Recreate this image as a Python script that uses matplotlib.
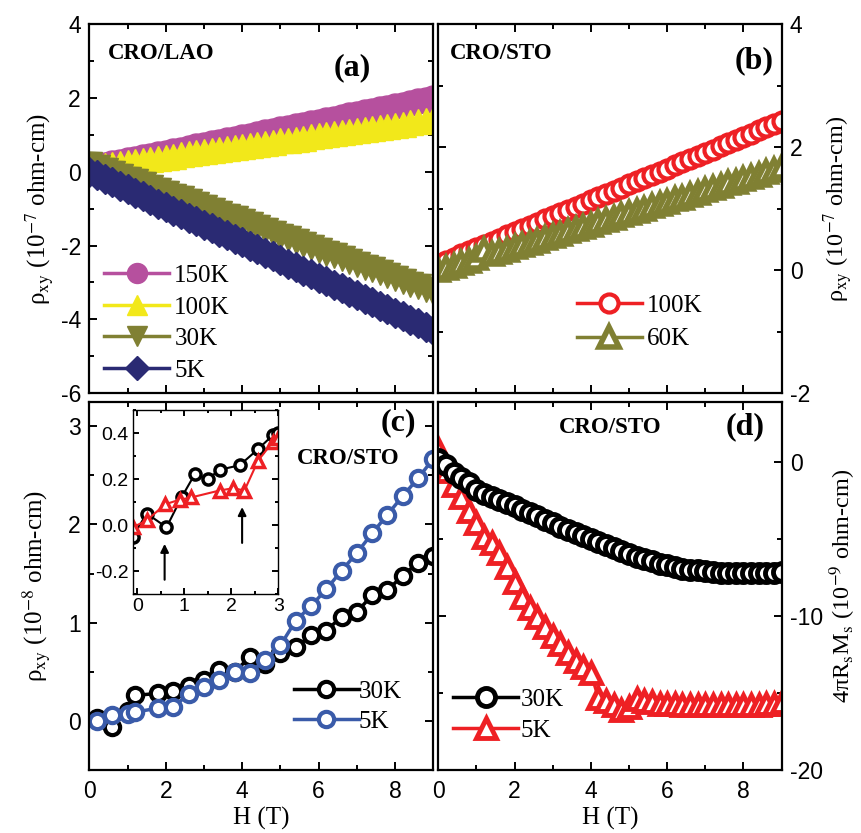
import numpy as np
import matplotlib.pyplot as plt
from matplotlib.ticker import MultipleLocator

plt.rcParams['font.family'] = ['Liberation Serif', 'DejaVu Serif']
plt.rcParams['mathtext.fontset'] = 'stix'
plt.rcParams['axes.unicode_minus'] = False
plt.rcParams['axes.linewidth'] = 1.6

# ---- data ----
# field sweep used for the dense curves of (a), (b), (d)
H = [0.0, 0.2, 0.4, 0.6, 0.8, 1.0, 1.2, 1.4, 1.6, 1.8, 2.0, 2.2, 2.4, 2.6, 2.8, 3.0,
     3.2, 3.4, 3.6, 3.8, 4.0, 4.2, 4.4, 4.6, 4.8, 5.0, 5.2, 5.4, 5.6, 5.8, 6.0, 6.2,
     6.4, 6.6, 6.8, 7.0, 7.2, 7.4, 7.6, 7.8, 8.0, 8.2, 8.4, 8.6, 8.8, 9.0]

# (a) CRO/LAO, rho_xy in 1e-7 ohm-cm
lao_150K = [0.10, 0.14, 0.18, 0.23, 0.27, 0.31, 0.35, 0.39, 0.44, 0.48, 0.52, 0.56, 0.60, 0.65, 0.69, 0.73,
            0.77, 0.81, 0.86, 0.90, 0.94, 0.98, 1.02, 1.07, 1.11, 1.15, 1.19, 1.23, 1.28, 1.32, 1.36, 1.40,
            1.44, 1.49, 1.53, 1.57, 1.61, 1.65, 1.70, 1.74, 1.78, 1.82, 1.86, 1.91, 1.95, 1.99]
lao_100K = [0.12, 0.15, 0.18, 0.21, 0.24, 0.27, 0.29, 0.32, 0.35, 0.38, 0.41, 0.44, 0.47, 0.50, 0.53, 0.56,
            0.58, 0.61, 0.64, 0.67, 0.70, 0.73, 0.76, 0.79, 0.82, 0.85, 0.87, 0.90, 0.93, 0.96, 0.99, 1.02,
            1.05, 1.08, 1.11, 1.14, 1.16, 1.19, 1.22, 1.25, 1.28, 1.31, 1.34, 1.37, 1.40, 1.43]
lao_30K = [0.20, 0.12, 0.05, -0.03, -0.11, -0.19, -0.26, -0.34, -0.42, -0.49, -0.57, -0.65, -0.72, -0.80, -0.88, -0.96,
           -1.03, -1.11, -1.19, -1.26, -1.34, -1.42, -1.49, -1.57, -1.65, -1.73, -1.80, -1.88, -1.96, -2.03, -2.11, -2.19,
           -2.26, -2.34, -2.42, -2.50, -2.57, -2.65, -2.73, -2.80, -2.88, -2.96, -3.03, -3.11, -3.19, -3.27]
lao_5K = [0.00, -0.10, -0.19, -0.29, -0.38, -0.48, -0.57, -0.67, -0.76, -0.86, -0.96, -1.05, -1.15, -1.24, -1.34, -1.43,
          -1.53, -1.63, -1.72, -1.82, -1.91, -2.01, -2.10, -2.20, -2.29, -2.39, -2.49, -2.58, -2.68, -2.77, -2.87, -2.96,
          -3.06, -3.15, -3.25, -3.35, -3.44, -3.54, -3.63, -3.73, -3.82, -3.92, -4.02, -4.11, -4.21, -4.30]

# (b) CRO/STO, rho_xy in 1e-7 ohm-cm
sto_100K = [0.10, 0.15, 0.20, 0.26, 0.31, 0.36, 0.41, 0.46, 0.51, 0.57, 0.62, 0.67, 0.72, 0.77, 0.83, 0.88,
            0.93, 0.98, 1.03, 1.08, 1.14, 1.19, 1.24, 1.29, 1.34, 1.40, 1.45, 1.50, 1.55, 1.60, 1.65, 1.71,
            1.76, 1.81, 1.86, 1.91, 1.96, 2.02, 2.07, 2.12, 2.17, 2.22, 2.28, 2.33, 2.38, 2.43]
sto_60K = [0.00, 0.04, 0.07, 0.11, 0.15, 0.19, 0.33, 0.26, 0.30, 0.33, 0.37, 0.41, 0.44, 0.48, 0.52, 0.56,
           0.59, 0.63, 0.67, 0.70, 0.74, 0.78, 0.81, 0.85, 0.89, 0.93, 0.96, 1.00, 1.04, 1.07, 1.11, 1.15,
           1.18, 1.22, 1.26, 1.30, 1.33, 1.37, 1.41, 1.44, 1.48, 1.52, 1.55, 1.59, 1.63, 1.67]

# (c) CRO/STO, rho_xy in 1e-8 ohm-cm
Hc_30K = [0.2, 0.6, 1.0, 1.2, 1.8, 2.2, 2.6, 3.0, 3.4, 3.8, 4.2, 4.6, 5.0, 5.4, 5.8, 6.2, 6.6, 7.0, 7.4, 7.8, 8.2, 8.6, 9.0]
c_30K = [0.03, -0.06, 0.10, 0.26, 0.28, 0.30, 0.36, 0.42, 0.52, 0.50, 0.65, 0.58, 0.69, 0.75, 0.87, 0.92,
         1.06, 1.11, 1.28, 1.33, 1.48, 1.61, 1.68]
Hc_5K = [0.2, 0.6, 1.0, 1.2, 1.8, 2.2, 2.6, 3.0, 3.4, 3.8, 4.2, 4.6, 5.0, 5.4, 5.8, 6.2, 6.6, 7.0, 7.4, 7.8, 8.2, 8.6, 9.0]
c_5K = [0.00, 0.06, 0.07, 0.09, 0.13, 0.145, 0.27, 0.35, 0.42, 0.50, 0.49, 0.62, 0.77, 1.02, 1.17, 1.34,
        1.53, 1.71, 1.91, 2.10, 2.29, 2.47, 2.67]

# (c) inset, low field
Hin_30K = [-0.1, 0.2, 0.62, 0.94, 1.22, 1.5, 1.75, 2.18, 2.57, 2.88, 3.0]
in_30K = [-0.05, 0.05, -0.01, 0.12, 0.22, 0.20, 0.24, 0.26, 0.33, 0.39, 0.40]
Hin_5K = [-0.1, 0.2, 0.59, 0.9, 1.15, 1.75, 2.04, 2.28, 2.57, 2.88, 3.0]
in_5K = [-0.01, 0.02, 0.09, 0.11, 0.12, 0.15, 0.16, 0.15, 0.28, 0.36, 0.38]
arrow_H = [0.58, 2.23]
arrow_tail = [-0.25, -0.09]
arrow_head = [-0.07, 0.09]

# (d) CRO/STO, 4 pi Rs Ms in 1e-9 ohm-cm
d_30K = [0.2, -0.2, -0.7, -1.05, -1.4, -1.8, -2.1, -2.3, -2.5, -2.7, -2.9, -3.1, -3.3, -3.55, -3.75, -4.0,
         -4.2, -4.4, -4.6, -4.8, -5.0, -5.2, -5.4, -5.6, -5.8, -6.0, -6.15, -6.3, -6.45, -6.6, -6.7, -6.85,
         -6.95, -7.0, -7.05, -7.1, -7.15, -7.2, -7.2, -7.2, -7.2, -7.2, -7.2, -7.2, -7.2, -7.15]
d_5K = [0.8, -0.6, -1.5, -2.3, -3.2, -4.0, -4.9, -5.3, -5.9, -6.8, -7.8, -8.8, -9.5, -10.1, -10.7, -11.3,
        -11.8, -12.4, -12.9, -13.3, -13.7, -15.3, -15.5, -15.8, -16.1, -15.9, -15.4, -15.5, -15.6, -15.7, -15.7, -15.7,
        -15.8, -15.8, -15.8, -15.8, -15.8, -15.8, -15.8, -15.8, -15.8, -15.8, -15.8, -15.7, -15.7, -15.6]

# colours
magenta = '#B6509E'
yellow = '#F2E81A'
olive = '#808033'
navy = '#2A2A73'
red = '#EE2024'
blue = '#3A5BA9'

fig = plt.figure(figsize=(8.61, 8.33), dpi=100)
ax_a = fig.add_axes([0.1037, 0.5282, 0.3996, 0.4426])
ax_b = fig.add_axes([0.5090, 0.5282, 0.3988, 0.4426])
ax_c = fig.add_axes([0.1037, 0.0756, 0.3996, 0.4422])
ax_d = fig.add_axes([0.5090, 0.0756, 0.3988, 0.4422])
ax_in = fig.add_axes([0.1541, 0.2869, 0.1691, 0.2209])


def style(ax, xmaj, xmin, ymaj, ymin, right=False, xlabels=True, size=16.5):
    ax.xaxis.set_major_locator(MultipleLocator(xmaj))
    ax.xaxis.set_minor_locator(MultipleLocator(xmin))
    ax.yaxis.set_major_locator(MultipleLocator(ymaj))
    ax.yaxis.set_minor_locator(MultipleLocator(ymin))
    ax.tick_params(which='both', direction='in', top=True, right=True, width=1.4,
                   labelsize=size, labelfontfamily='Liberation Sans', pad=6)
    ax.tick_params(which='major', length=6)
    ax.tick_params(which='minor', length=3.5)
    if right:
        ax.tick_params(labelleft=False, labelright=True)
        ax.yaxis.set_label_position('right')
    if not xlabels:
        ax.tick_params(labelbottom=False)


leg_kw = dict(frameon=False, fontsize=18, handlelength=2.6, borderaxespad=0.2)

# (a)
ax_a.plot(H, lao_150K, '-o', color=magenta, ms=18, lw=2.5, label='150K')
ax_a.plot(H, lao_100K, '-^', color=yellow, ms=18, lw=2.5, label='100K')
ax_a.plot(H, lao_30K, '-v', color=olive, ms=18, lw=2.5, label='30K')
ax_a.plot(H, lao_5K, '-D', color=navy, ms=15, lw=2.5, label='5K')
ax_a.set_xlim(0, 9)
ax_a.set_ylim(-6, 4)
style(ax_a, 2, 1, 2, 1, xlabels=False)
ax_a.set_ylabel('ρ$_{\\mathrm{xy}}$ (10$^{-7}$ ohm-cm)', fontsize=18, labelpad=4)
ax_a.legend(loc='lower left', bbox_to_anchor=(0.0, -0.01), handletextpad=0.2,
            labelspacing=0.36, markerscale=0.8, **leg_kw)
ax_a.text(0.054, 0.921, 'CRO/LAO', transform=ax_a.transAxes, fontsize=16.5, fontweight='bold', va='center')
ax_a.text(0.764, 0.881, '(a)', transform=ax_a.transAxes, fontsize=23, fontweight='bold', ha='center', va='center')

# (b)
ax_b.plot(H, sto_100K, '-o', color=red, mfc='white', ms=13, mew=3, lw=2.5, label='100K')
ax_b.plot(H, sto_60K, '-^', color=olive, mfc='white', ms=14, mew=4, lw=2.5, label='60K')
ax_b.set_xlim(0, 9)
ax_b.set_ylim(-2, 4)
style(ax_b, 2, 1, 2, 1, right=True, xlabels=False)
ax_b.set_ylabel('ρ$_{\\mathrm{xy}}$ (10$^{-7}$ ohm-cm)', fontsize=17.5, labelpad=8)
ax_b.legend(loc='lower left', bbox_to_anchor=(0.36, 0.075), handletextpad=0.2,
            labelspacing=0.45, **leg_kw)
ax_b.text(0.034, 0.921, 'CRO/STO', transform=ax_b.transAxes, fontsize=16.5, fontweight='bold', va='center')
ax_b.text(0.919, 0.902, '(b)', transform=ax_b.transAxes, fontsize=23, fontweight='bold', ha='center', va='center')

# (c)
ax_c.plot(Hc_30K, c_30K, '-o', color='black', mfc='white', ms=11, mew=3, lw=2.5, label='30K')
ax_c.plot(Hc_5K, c_5K, '-o', color=blue, mfc='white', ms=11, mew=3, lw=2.5, label='5K')
ax_c.set_xlim(0, 9)
ax_c.set_ylim(-0.5, 3.25)
style(ax_c, 2, 1, 1, 0.5)
ax_c.tick_params(axis='x', pad=7)
ax_c.set_ylabel('ρ$_{\\mathrm{xy}}$ (10$^{-8}$ ohm-cm)', fontsize=18, labelpad=12)
ax_c.set_xlabel('H (T)', fontsize=18, labelpad=3)
ax_c.legend(loc='lower left', bbox_to_anchor=(0.55, 0.06), handletextpad=0.0,
            labelspacing=0.3, **leg_kw)
ax_c.text(0.897, 0.942, '(c)', transform=ax_c.transAxes, fontsize=23, fontweight='bold', ha='center', va='center')
ax_c.text(0.752, 0.847, 'CRO/STO', transform=ax_c.transAxes, fontsize=16.5, fontweight='bold', ha='center', va='center')

# (c) inset
ax_in.plot(Hin_30K, in_30K, '-o', color='black', mfc='white', ms=8, mew=2.5, lw=1.5)
ax_in.plot(Hin_5K, in_5K, '-^', color=red, mfc='white', ms=8, mew=2.5, lw=1.5)
for xa, y0, y1 in zip(arrow_H, arrow_tail, arrow_head):
    ax_in.annotate('', xy=(xa, y1), xytext=(xa, y0),
                   arrowprops=dict(arrowstyle='-|>', color='black', lw=1.5, mutation_scale=12))
ax_in.set_xlim(-0.1, 3)
ax_in.set_ylim(-0.3, 0.5)
style(ax_in, 1, 0.5, 0.2, 0.1, size=14)
ax_in.set_yticks([-0.2, 0.0, 0.2, 0.4])
ax_in.set_yticklabels(['-0.2', '0.0', '0.2', '0.4'])
ax_in.tick_params(which='major', length=4, pad=3)
ax_in.tick_params(which='minor', length=2)
for s in ax_in.spines.values():
    s.set_linewidth(1.0)

# (d)
l5, = ax_d.plot(H, d_5K, '-^', color=red, mfc='white', ms=14, mew=3.5, lw=2.5, label='5K')
l30, = ax_d.plot(H, d_30K, '-o', color='black', mfc='white', ms=13, mew=3.5, lw=2.5, label='30K')
ax_d.set_xlim(0, 9)
ax_d.set_ylim(-20, 3.9)
style(ax_d, 2, 1, 10, 5, right=True)
ax_d.tick_params(axis='x', pad=7)
ax_d.set_ylabel('4πR$_{\\mathrm{s}}$M$_{\\mathrm{s}}$ (10$^{-9}$ ohm-cm)', fontsize=17.5, labelpad=3)
ax_d.set_xlabel('H (T)', fontsize=18, labelpad=3)
ax_d.legend(handles=[l30, l5], loc='lower left', bbox_to_anchor=(0.0, 0.035), handletextpad=0.1,
            labelspacing=0.36, **leg_kw)
ax_d.text(0.50, 0.929, 'CRO/STO', transform=ax_d.transAxes, fontsize=16.5, fontweight='bold', ha='center', va='center')
ax_d.text(0.893, 0.931, '(d)', transform=ax_d.transAxes, fontsize=23, fontweight='bold', ha='center', va='center')

fig.savefig('out.png', dpi=100)
